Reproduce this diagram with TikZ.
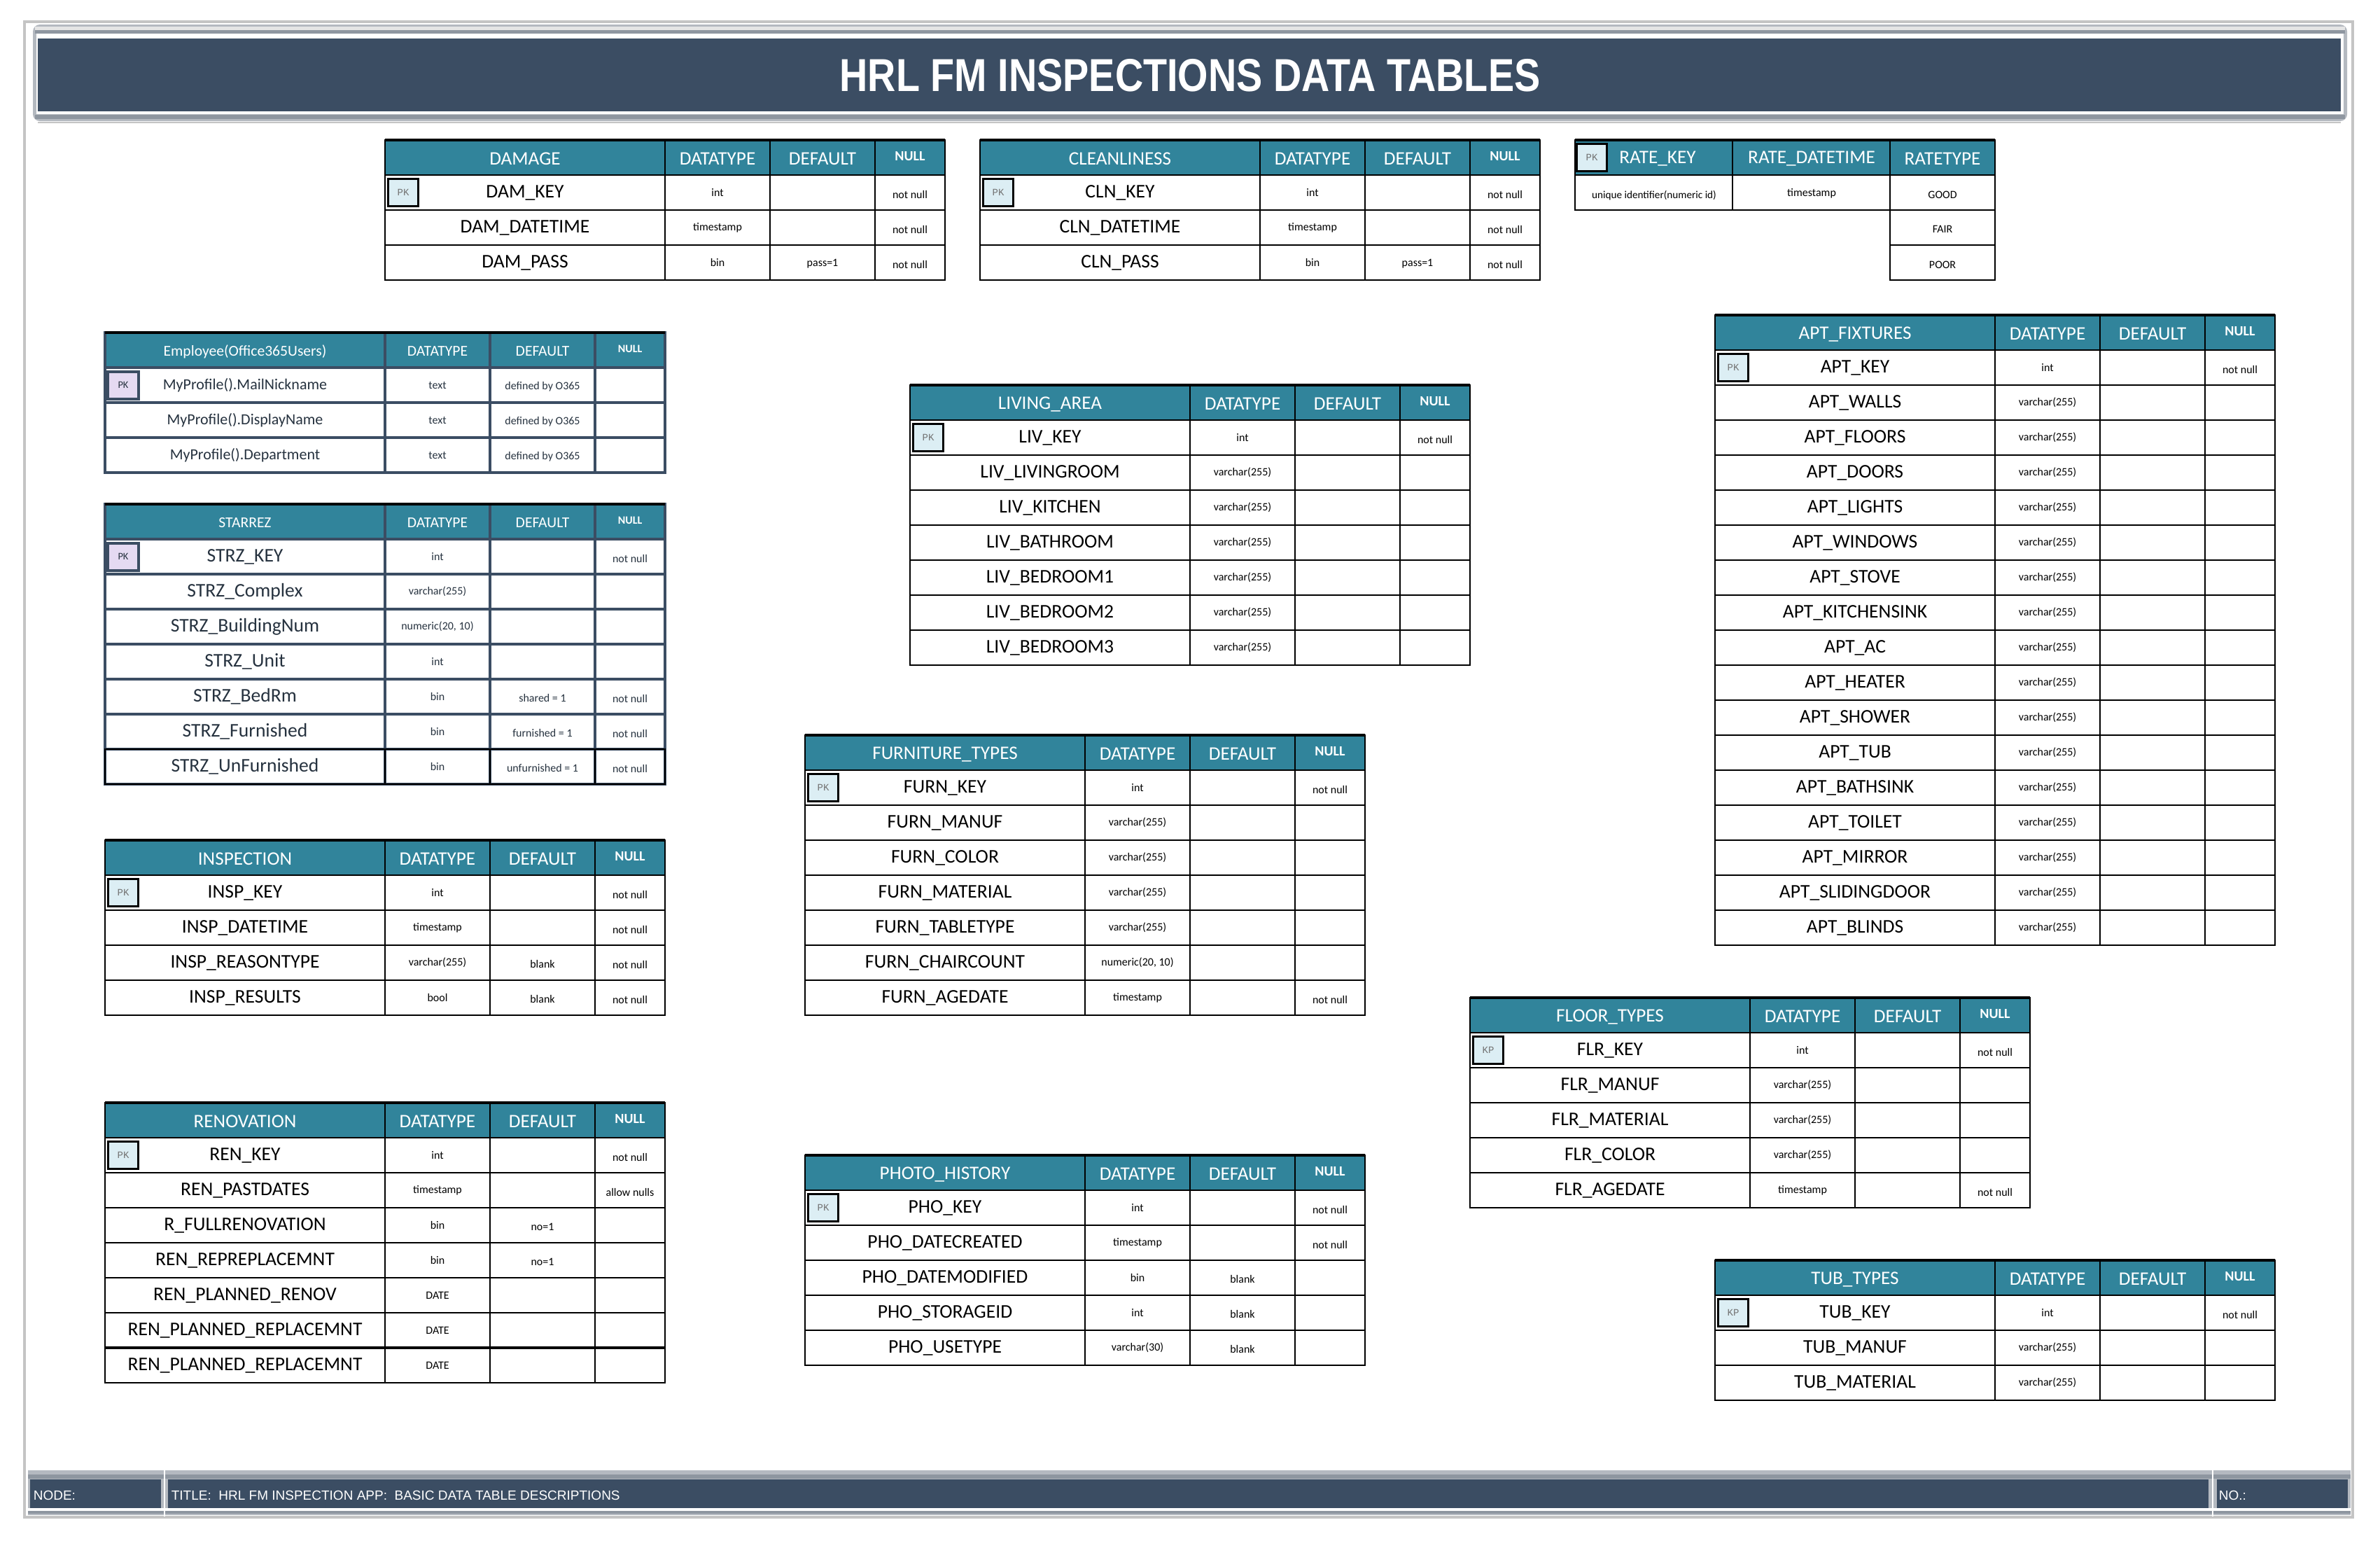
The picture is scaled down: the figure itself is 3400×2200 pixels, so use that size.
\documentclass[tikz,border=0pt]{standalone}
\usepackage{fontspec}
\setmainfont{Carlito}
\newfontfamily\arialf{Liberation Sans}
\newfontfamily\monof{Liberation Mono}
\definecolor{hdrteal}{HTML}{31849B}
\definecolor{slate}{HTML}{3B4D63}
\definecolor{pkblue}{HTML}{DCEEF4}
\definecolor{pklav}{HTML}{E5DAF2}
\definecolor{slatetext}{HTML}{26323F}
\definecolor{bevelgray}{HTML}{B4B9C0}
\definecolor{bevelmid}{HTML}{8E96A0}
\definecolor{framegray}{HTML}{C4C4C4}
\tikzset{
 cell/.style={draw=black,line width=0.5pt},
 hcell/.style={cell,fill=hdrteal},
 htop/.style={draw=black,line width=1pt},
 hdrtxt/.style={text=white,inner sep=0pt,font=\fontsize{6.8}{8}\selectfont},
 nulltxt/.style={text=white,inner sep=0pt,font=\fontsize{5}{6}\selectfont\bfseries},
 nametxt/.style={text=black,inner sep=0pt,font=\fontsize{6.9}{8}\selectfont},
 smtxt/.style={text=black,inner sep=0pt,font=\fontsize{4}{5}\selectfont},
 keybox/.style={draw=black,line width=0.6pt,fill=pkblue,minimum width=10.75pt,minimum height=9.75pt,inner sep=0pt,text=black!55,font=\monof\fontsize{3.5}{4}\selectfont},
 bartxt/.style={text=white,inner sep=0pt,anchor=west,font=\arialf\fontsize{4.75}{5.5}\selectfont},
 slatetab/.style={cell/.style={draw=slate,line width=1pt},
   nametxt/.append style={text=slatetext},
   smtxt/.append style={text=slatetext},
   keybox/.style={draw=slate,line width=1pt,fill=pklav,minimum width=11pt,minimum height=9.75pt,inner sep=0pt,text=slatetext,font=\fontsize{3.6}{4}\selectfont}},
}
\newcommand\stdtable[6]{%
  \draw[hcell] (#2,#3) rectangle ({#2+800},{#3+50});
  \draw[cell] ({#2+400},#3) -- ({#2+400},{#3+50}) ({#2+550},#3) -- ({#2+550},{#3+50}) ({#2+700},#3) -- ({#2+700},{#3+50});
  \draw[htop] (#2,#3) -- ({#2+800},#3);
  \node[hdrtxt] (#1-h1) at ({#2+200},{#3+27}) {#4};
  \node[hdrtxt] (#1-h2) at ({#2+475},{#3+27}) {DATATYPE};
  \node[hdrtxt] (#1-h3) at ({#2+625},{#3+27}) {DEFAULT};
  \node[nulltxt] (#1-h4) at ({#2+750},{#3+23}) {NULL};
  \foreach \cA/\cB/\cC/\cD [count=\i] in {#6} {
    \pgfmathsetmacro\yy{#3+50*\i}
    \draw[cell] (#2,\yy) rectangle ({#2+800},{\yy+50});
    \draw[cell] ({#2+400},\yy) -- ({#2+400},{\yy+50}) ({#2+550},\yy) -- ({#2+550},{\yy+50}) ({#2+700},\yy) -- ({#2+700},{\yy+50});
    \node[nametxt] (#1-\i-a) at ({#2+200},{\yy+25}) {\cA};
    \node[smtxt] (#1-\i-b) at ({#2+475},{\yy+25}) {\cB};
    \node[smtxt] (#1-\i-c) at ({#2+625},{\yy+27}) {\cC};
    \node[smtxt] (#1-\i-d) at ({#2+750},{\yy+28}) {\cD};
  }
  \node[keybox] (#1-pk) at ({#2+26},{#3+75}) {#5};
}
\begin{document}
\begin{tikzpicture}[x=0.25pt,y=-0.25pt]
\useasboundingbox (0,0) rectangle (3400,2200);
\fill[white] (0,0) rectangle (3400,2200);
% frame
\draw[framegray,line width=0.8pt] (35,31) rectangle (3361,2167);
% title band
\fill[bevelgray,rounded corners=2.5pt] (47,35) rectangle (3353,173);
\fill[black!10] (50,38) rectangle (3350,43);
\fill[bevelmid] (50,43) rectangle (3350,48);
\fill[white] (52,48) rectangle (3348,163);
\fill[bevelmid] (50,164) rectangle (3350,170);
\fill[slate] (54,55) rectangle (3344,159);
\draw[framegray,line width=0.6pt] (54,175) -- (3344,175);
\node[inner sep=0pt,text=white,font=\arialf\bfseries\fontsize{16.5}{18}\selectfont] (title) at (1700,108) {\scalebox{0.845}[1]{HRL FM INSPECTIONS DATA TABLES}};
% bottom bar
\fill[bevelgray] (40,2100) rectangle (3358,2164);
\fill[bevelmid] (40,2106) rectangle (3358,2112);
\fill[white] (40,2154) rectangle (3358,2158);
\fill[bevelmid] (40,2158) rectangle (3358,2162);
\fill[slate] (43,2113) rectangle (230,2154);
\fill[slate] (240,2113) rectangle (3155,2154);
\fill[slate] (3167,2113) rectangle (3354,2154);
\draw[white,line width=0.6pt] (235,2100) -- (235,2166) (3161,2100) -- (3161,2166);
\node[bartxt] (bnode) at (47,2136) {NODE:};
\node[bartxt] (btitle) at (244,2136) {TITLE:\ \ HRL FM INSPECTION APP:\ \ BASIC DATA TABLE DESCRIPTIONS};
\node[bartxt] (bno) at (3169,2136) {NO.:};

% DAMAGE
\stdtable{dam}{550}{200}{DAMAGE}{PK}{DAM\_KEY/int/{}/not null, DAM\_DATETIME/timestamp/{}/not null, DAM\_PASS/bin/pass=1/not null}
% CLEANLINESS
\stdtable{cln}{1400}{200}{CLEANLINESS}{PK}{CLN\_KEY/int/{}/not null, CLN\_DATETIME/timestamp/{}/not null, CLN\_PASS/bin/pass=1/not null}
% RATE table
\fill[hdrteal] (2250,200) rectangle (2850,250);
\draw[cell] (2250,200) rectangle (2850,250) (2475,200) -- (2475,250) (2700,200) -- (2700,250);
\draw[htop] (2250,200) -- (2850,200);
\draw[cell] (2250,250) rectangle (2475,300) (2475,250) rectangle (2700,300) (2700,250) rectangle (2850,300) (2700,300) rectangle (2850,350) (2700,350) rectangle (2850,400);
\node[keybox] (rate-pk) at (2274,225) {PK};
\node[hdrtxt] (rate-h1) at (2368,227) {RATE\_KEY};
\node[hdrtxt] (rate-h2) at (2588,227) {RATE\_DATETIME};
\node[hdrtxt] (rate-h3) at (2775,227) {RATETYPE};
\node[smtxt,font=\fontsize{3.8}{4.5}\selectfont] (rate-1-a) at (2363,279) {unique identifier(numeric id)};
\node[smtxt] (rate-1-b) at (2588,276) {timestamp};
\node[smtxt] (rate-1-c) at (2775,278) {GOOD};
\node[smtxt] (rate-2-c) at (2775,327) {FAIR};
\node[smtxt] (rate-3-c) at (2775,378) {POOR};

% Employee
\begin{scope}[slatetab,hdrtxt/.append style={font=\fontsize{5.4}{6.5}\selectfont},nulltxt/.append style={font=\fontsize{4}{5}\selectfont\bfseries},nametxt/.append style={font=\fontsize{5.5}{6.5}\selectfont}]
\stdtable{emp}{150}{475}{Employee(Office365Users)}{PK}{MyProfile().MailNickname/text/defined by O365/{}, MyProfile().DisplayName/text/defined by O365/{}, MyProfile().Department/text/defined by O365/{}}
\end{scope}
% STARREZ
\begin{scope}[slatetab,hdrtxt/.append style={font=\fontsize{5.4}{6.5}\selectfont},nulltxt/.append style={font=\fontsize{4}{5}\selectfont\bfseries}]
\stdtable{strz}{150}{720}{STARREZ}{PK}{STRZ\_KEY/int/{}/not null, STRZ\_Complex/varchar(255)/{}/{}, STRZ\_BuildingNum/{numeric(20, 10)}/{}/{}, STRZ\_Unit/int/{}/{}, STRZ\_BedRm/bin/shared = 1/not null, STRZ\_Furnished/bin/furnished = 1/not null, STRZ\_UnFurnished/bin/unfurnished = 1/not null}
\end{scope}
\draw[cell] (150,1070) rectangle (950,1120) (550,1070) -- (550,1120) (700,1070) -- (700,1120) (850,1070) -- (850,1120);
% INSPECTION
\stdtable{insp}{150}{1200}{INSPECTION}{PK}{INSP\_KEY/int/{}/not null, INSP\_DATETIME/timestamp/{}/not null, INSP\_REASONTYPE/varchar(255)/blank/not null, INSP\_RESULTS/bool/blank/not null}
% RENOVATION
\stdtable{ren}{150}{1575}{RENOVATION}{PK}{REN\_KEY/int/{}/not null, REN\_PASTDATES/timestamp/{}/allow nulls, R\_FULLRENOVATION/bin/no=1/{}, REN\_REPREPLACEMNT/bin/no=1/{}, REN\_PLANNED\_RENOV/DATE/{}/{}, REN\_PLANNED\_REPLACEMNT/DATE/{}/{}, REN\_PLANNED\_REPLACEMNT/DATE/{}/{}}
\draw[line width=1pt] (150,1925) -- (950,1925);
% LIVING_AREA
\stdtable{liv}{1300}{550}{LIVING\_AREA}{PK}{LIV\_KEY/int/{}/not null, LIV\_LIVINGROOM/varchar(255)/{}/{}, LIV\_KITCHEN/varchar(255)/{}/{}, LIV\_BATHROOM/varchar(255)/{}/{}, LIV\_BEDROOM1/varchar(255)/{}/{}, LIV\_BEDROOM2/varchar(255)/{}/{}, LIV\_BEDROOM3/varchar(255)/{}/{}}
% FURNITURE_TYPES
\stdtable{furn}{1150}{1050}{FURNITURE\_TYPES}{PK}{FURN\_KEY/int/{}/not null, FURN\_MANUF/varchar(255)/{}/{}, FURN\_COLOR/varchar(255)/{}/{}, FURN\_MATERIAL/varchar(255)/{}/{}, FURN\_TABLETYPE/varchar(255)/{}/{}, FURN\_CHAIRCOUNT/{numeric(20, 10)}/{}/{}, FURN\_AGEDATE/timestamp/{}/not null}
% PHOTO_HISTORY
\stdtable{pho}{1150}{1650}{PHOTO\_HISTORY}{PK}{PHO\_KEY/int/{}/not null, PHO\_DATECREATED/timestamp/{}/not null, PHO\_DATEMODIFIED/bin/blank/{}, PHO\_STORAGEID/int/blank/{}, PHO\_USETYPE/varchar(30)/blank/{}}
% APT_FIXTURES
\stdtable{apt}{2450}{450}{APT\_FIXTURES}{PK}{APT\_KEY/int/{}/not null, APT\_WALLS/varchar(255)/{}/{}, APT\_FLOORS/varchar(255)/{}/{}, APT\_DOORS/varchar(255)/{}/{}, APT\_LIGHTS/varchar(255)/{}/{}, APT\_WINDOWS/varchar(255)/{}/{}, APT\_STOVE/varchar(255)/{}/{}, APT\_KITCHENSINK/varchar(255)/{}/{}, APT\_AC/varchar(255)/{}/{}, APT\_HEATER/varchar(255)/{}/{}, APT\_SHOWER/varchar(255)/{}/{}, APT\_TUB/varchar(255)/{}/{}, APT\_BATHSINK/varchar(255)/{}/{}, APT\_TOILET/varchar(255)/{}/{}, APT\_MIRROR/varchar(255)/{}/{}, APT\_SLIDINGDOOR/varchar(255)/{}/{}, APT\_BLINDS/varchar(255)/{}/{}}
% FLOOR_TYPES
\stdtable{flr}{2100}{1425}{FLOOR\_TYPES}{KP}{FLR\_KEY/int/{}/not null, FLR\_MANUF/varchar(255)/{}/{}, FLR\_MATERIAL/varchar(255)/{}/{}, FLR\_COLOR/varchar(255)/{}/{}, FLR\_AGEDATE/timestamp/{}/not null}
% TUB_TYPES
\stdtable{tub}{2450}{1800}{TUB\_TYPES}{KP}{TUB\_KEY/int/{}/not null, TUB\_MANUF/varchar(255)/{}/{}, TUB\_MATERIAL/varchar(255)/{}/{}}
\end{tikzpicture}
\end{document}
